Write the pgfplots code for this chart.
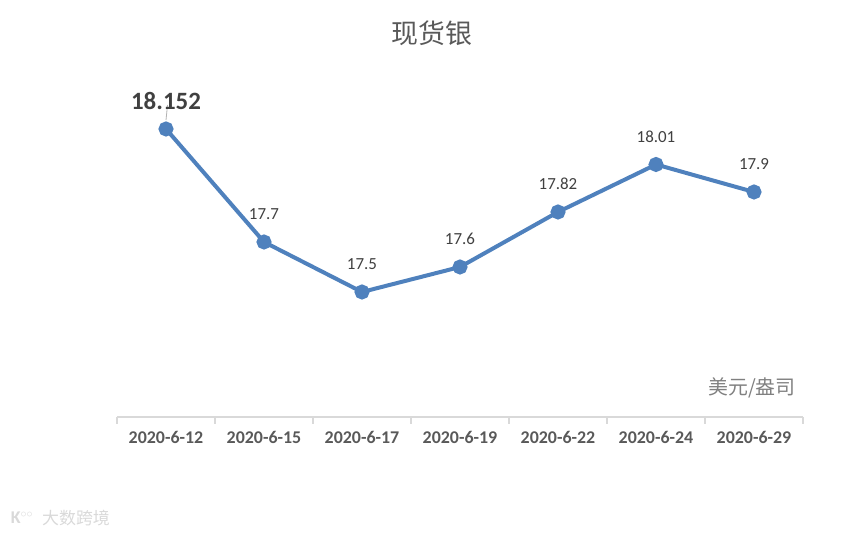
\documentclass[border=0pt]{standalone}
\usepackage{pgfplots}
\usepackage{pgfplotstable}
\pgfplotsset{compat=1.18}
\usepackage{fontspec}
\setmainfont{Carlito}
\newfontfamily\cjk{Noto Sans CJK SC}
\definecolor{lineblue}{RGB}{79,129,189}
\definecolor{lbl}{RGB}{64,64,64}
\definecolor{ticktxt}{RGB}{89,89,89}
\definecolor{axl}{RGB}{217,217,217}
\pgfplotstableread{
x y lab
0 18.152 18.152
1 17.7 17.7
2 17.5 17.5
3 17.6 17.6
4 17.82 17.82
5 18.01 18.01
6 17.9 17.9
}\datatable
\begin{document}
\begin{tikzpicture}[x=1bp,y=1bp]
\path[use as bounding box] (0,0) rectangle (863,535);
\begin{axis}[
 at={(117bp,118bp)}, anchor=south west,
 scale only axis, width=686bp, height=352bp,
 xmin=-0.5, xmax=6.5, ymin=17, ymax=18.408,
 axis x line=bottom, axis y line=none,
 axis line style={axl, line width=1.5bp, -},
 xtick={0,...,6},
 xticklabels={2020-6-12,2020-6-15,2020-6-17,2020-6-19,2020-6-22,2020-6-24,2020-6-29},
 major tick length=0pt,
 minor xtick={-0.5,0.5,1.5,2.5,3.5,4.5,5.5,6.5},
 minor tick length=7bp,
 tick align=outside,
 minor tick style={axl, line width=1.5bp},
 xticklabel style={font=\fontsize{18}{21}\selectfont\bfseries, text=ticktxt, anchor=north, inner sep=0pt, yshift=-14bp},
 ytick=\empty,
 clip=false,
]
\addplot[lineblue, line width=4bp, mark=*, mark size=5.5bp,
  mark options={fill=lineblue, draw=none},
  nodes near coords={\ifnum\coordindex=0 \fontsize{25}{28}\selectfont\bfseries\fi\pgfplotspointmeta},
  point meta=explicit symbolic,
  every node near coord/.style={anchor=center, yshift=28bp, text=lbl, font=\fontsize{17}{20}\selectfont, inner sep=0pt}]
  table[x=x, y=y, meta=lab] {\datatable};
\draw[gray!60, line width=0.8bp] (axis cs:0,18.152) ++(0bp,9bp) -- ++(1.5bp,15bp);
\end{axis}
\node[text=ticktxt] at (432,502) {\cjk\fontsize{27}{30}\selectfont 现货银};
\node[text=gray] at (752,147) {\cjk\fontsize{20}{23}\selectfont 美元/盎司};
\node[text=gray!30] at (22,17) {\fontsize{18}{20}\selectfont\bfseries K$^{\circ\circ}$};
\node[text=gray!30] at (76,17) {\cjk\fontsize{17}{20}\selectfont 大数跨境};
\end{tikzpicture}
\end{document}
